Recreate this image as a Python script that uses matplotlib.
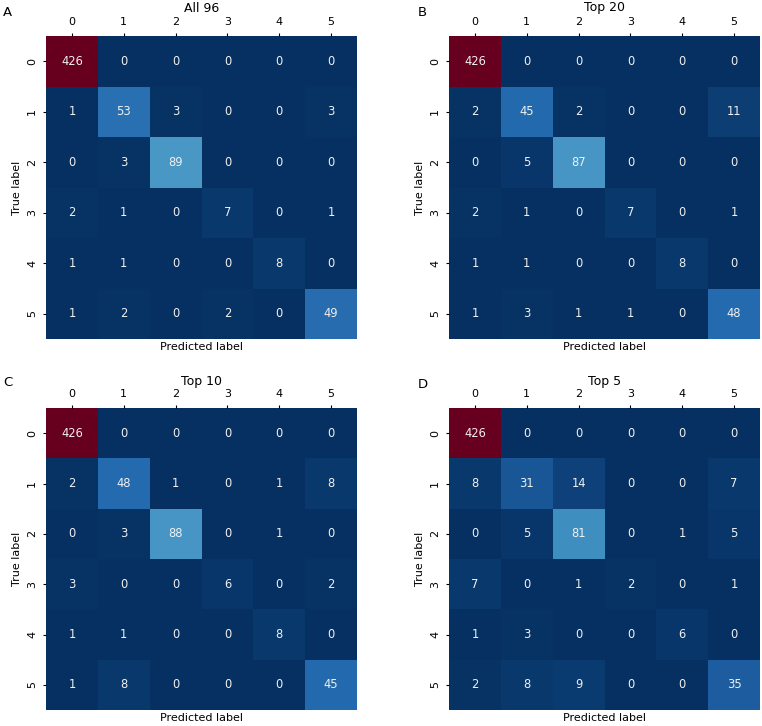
import numpy as np
import matplotlib
matplotlib.use('Agg')
import matplotlib.pyplot as plt
import seaborn as sns

# confusion matrices, rows = true label, cols = predicted label
labels = [0, 1, 2, 3, 4, 5]

cm_all96 = [[426, 0, 0, 0, 0, 0],
            [1, 53, 3, 0, 0, 3],
            [0, 3, 89, 0, 0, 0],
            [2, 1, 0, 7, 0, 1],
            [1, 1, 0, 0, 8, 0],
            [1, 2, 0, 2, 0, 49]]

cm_top20 = [[426, 0, 0, 0, 0, 0],
            [2, 45, 2, 0, 0, 11],
            [0, 5, 87, 0, 0, 0],
            [2, 1, 0, 7, 0, 1],
            [1, 1, 0, 0, 8, 0],
            [1, 3, 1, 1, 0, 48]]

cm_top10 = [[426, 0, 0, 0, 0, 0],
            [2, 48, 1, 0, 1, 8],
            [0, 3, 88, 0, 1, 0],
            [3, 0, 0, 6, 0, 2],
            [1, 1, 0, 0, 8, 0],
            [1, 8, 0, 0, 0, 45]]

cm_top5 = [[426, 0, 0, 0, 0, 0],
           [8, 31, 14, 0, 0, 7],
           [0, 5, 81, 0, 1, 5],
           [7, 0, 1, 2, 0, 1],
           [1, 3, 0, 0, 6, 0],
           [2, 8, 9, 0, 0, 35]]

titles = ['All 96', 'Top 20', 'Top 10', 'Top 5']
letters = ['A', 'B', 'C', 'D']
matrices = [cm_all96, cm_top20, cm_top10, cm_top5]

W, H = 762, 726
fig = plt.figure(figsize=(W / 100, H / 100), dpi=100)

# axes boxes in pixels: left, top, right, bottom
boxes = [(46, 36, 357, 339), (449, 36, 760, 339),
         (46, 408, 357, 710), (449, 408, 760, 710)]
title_y = [8, 8, 382, 382]
letter_pos = [(3, 13), (418, 13), (3, 383), (418, 384)]

for i in range(4):
    l, t, r, b = boxes[i]
    ax = fig.add_axes([l / W, 1 - b / H, (r - l) / W, (b - t) / H])
    sns.heatmap(np.array(matrices[i]), ax=ax, cmap='RdBu_r', vmin=0, vmax=426,
                annot=True, fmt='d', cbar=False,
                annot_kws={'fontsize': 8.3},
                xticklabels=labels, yticklabels=labels)
    for txt in ax.texts:
        txt.set_color('#f0f0f0')
    ax.xaxis.tick_top()
    ax.tick_params(axis='both', labelsize=8, length=2.5, pad=4)
    plt.setp(ax.get_yticklabels(), rotation=90, va='center')
    plt.setp(ax.get_xticklabels(), rotation=0)
    ax.set_xlabel('Predicted label', fontsize=8, labelpad=2)
    ax.set_ylabel('True label', fontsize=8)
    ax.yaxis.set_label_coords(-0.076, 0.5)
    fig.text((l + r) / 2 / W, 1 - title_y[i] / H, titles[i], fontsize=9,
             ha='center', va='center')
    fig.text(letter_pos[i][0] / W, 1 - letter_pos[i][1] / H, letters[i],
             fontsize=9.5, ha='left', va='center')

fig.savefig('out.png', dpi=100)
